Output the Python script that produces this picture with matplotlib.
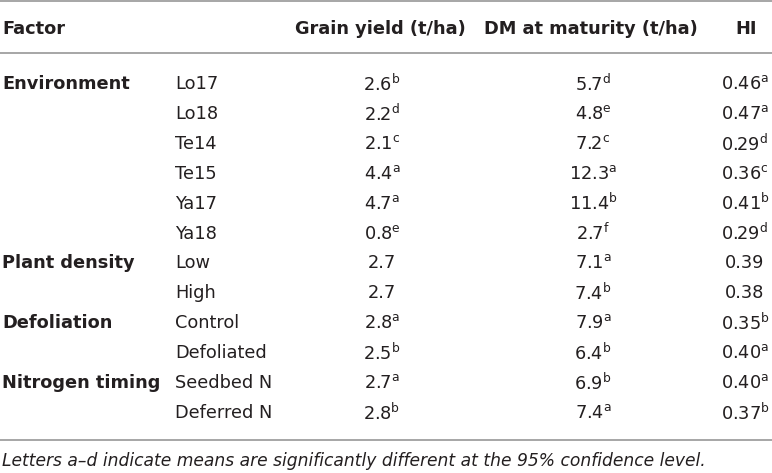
import matplotlib
matplotlib.use("Agg")
import matplotlib.pyplot as plt

plt.rcParams['font.family'] = ['DejaVu Sans']
plt.rcParams['mathtext.default'] = 'regular'

# table content
headers = ["Factor", "Grain yield (t/ha)", "DM at maturity (t/ha)", "HI"]
factors = ["Environment", "", "", "", "", "", "Plant density", "",
           "Defoliation", "", "Nitrogen timing", ""]
levels = ["Lo17", "Lo18", "Te14", "Te15", "Ya17", "Ya18", "Low", "High",
          "Control", "Defoliated", "Seedbed N", "Deferred N"]
grain = [2.6, 2.2, 2.1, 4.4, 4.7, 0.8, 2.7, 2.7, 2.8, 2.5, 2.7, 2.8]
grain_sig = ["b", "d", "c", "a", "a", "e", "", "", "a", "b", "a", "b"]
dm = [5.7, 4.8, 7.2, 12.3, 11.4, 2.7, 7.1, 7.4, 7.9, 6.4, 6.9, 7.4]
dm_sig = ["d", "e", "c", "a", "b", "f", "a", "b", "a", "b", "b", "a"]
hi = [0.46, 0.47, 0.29, 0.36, 0.41, 0.29, 0.39, 0.38, 0.35, 0.40, 0.40, 0.37]
hi_sig = ["a", "a", "d", "c", "b", "d", "", "", "b", "a", "a", "b"]
footnote = "Letters a\u2013d indicate means are significantly different at the 95% confidence level."

TXT = "#231f20"
RULE = "#a6a6a6"
FS = 12.8

fig = plt.figure(figsize=(7.72, 4.73), dpi=100)
ax = fig.add_axes([0, 0, 1, 1])
ax.set_xlim(0, 772)
ax.set_ylim(473, 0)
ax.axis("off")


def cell(v, s, nd):
    t = f"{v:.{nd}f}"
    if s:
        t += "$^{" + s + "}$"
    return t


# rules
ax.hlines([1.5, 53, 440], 0, 772, color=RULE, lw=1.4)

# header
hy = 29
ax.text(2, hy, headers[0], fontsize=FS, fontweight="bold", color=TXT, va="center", ha="left")
ax.text(380, hy, headers[1], fontsize=FS, fontweight="bold", color=TXT, va="center", ha="center")
ax.text(591, hy, headers[2], fontsize=FS, fontweight="bold", color=TXT, va="center", ha="center")
ax.text(746, hy, headers[3], fontsize=FS, fontweight="bold", color=TXT, va="center", ha="center")

for i in range(len(levels)):
    y = 84 + 29.9 * i
    if factors[i]:
        ax.text(2, y, factors[i], fontsize=FS, fontweight="bold", color=TXT, va="center")
    ax.text(175, y, levels[i], fontsize=FS, color=TXT, va="center")
    ax.text(382, y, cell(grain[i], grain_sig[i], 1), fontsize=FS, color=TXT, va="center", ha="center")
    ax.text(593, y, cell(dm[i], dm_sig[i], 1), fontsize=FS, color=TXT, va="center", ha="center")
    ax.text(745, y, cell(hi[i], hi_sig[i], 2), fontsize=FS, color=TXT, va="center", ha="center")

ax.text(2, 461, footnote, fontsize=12.3, style="italic", color=TXT, va="center", ha="left")

fig.savefig("out.png", dpi=100)
